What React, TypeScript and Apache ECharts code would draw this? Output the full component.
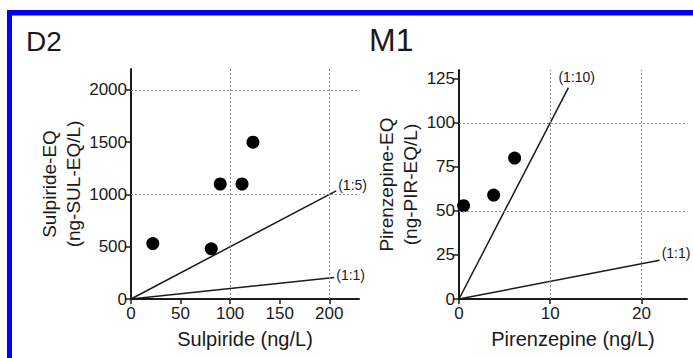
import React, { useEffect, useRef } from "react";
import * as echarts from "echarts";

// ---- data ----
const d2X = [22, 81, 90, 112, 123];
const d2Y = [530, 480, 1100, 1100, 1500];
const m1X = [0.5, 3.8, 6.1];
const m1Y = [53, 59, 80];

const d2XTicks = [0, 50, 100, 150, 200];
const d2YTicks = [0, 500, 1000, 1500, 2000];
const m1XTicks = [0, 10, 20];
const m1YTicks = [0, 25, 50, 75, 100, 125];

const d2GridX = [100, 200];
const d2GridY = [1000, 2000];
const m1GridX = [10, 20];
const m1GridY = [50, 100];

const d2Ratio5 = [[0, 0], [207, 1035]];
const d2Ratio1 = [[0, 0], [205, 205]];
const m1Ratio10 = [[0, 0], [12, 120]];
const m1Ratio1 = [[0, 0], [22, 22]];

const FONT = "'Liberation Sans', Arial, sans-serif";
const INK = "#1a1a1a";

function xAxisDef(grid: number, max: number, ticks: number[], name: string) {
  return {
    type: "value",
    gridIndex: grid,
    min: 0,
    max,
    name,
    nameLocation: "middle",
    nameGap: 30,
    nameTextStyle: { fontSize: 20, color: INK, fontFamily: FONT },
    axisLine: { show: true, onZero: false, lineStyle: { color: INK, width: 2 } },
    axisTick: { show: true, customValues: ticks, length: 5, lineStyle: { color: INK, width: 1.5 } },
    axisLabel: {
      customValues: ticks,
      formatter: (v: number) => String(v),
      fontSize: 17,
      color: INK,
      fontFamily: FONT,
      margin: 6,
    },
    splitLine: { show: false },
  };
}

function yAxisDef(grid: number, max: number, ticks: number[], name: string, gap: number) {
  return {
    type: "value",
    gridIndex: grid,
    min: 0,
    max,
    name,
    nameLocation: "middle",
    nameRotate: 90,
    nameGap: gap,
    nameTextStyle: { fontSize: 19, lineHeight: 24, color: INK, fontFamily: FONT },
    axisLine: { show: true, onZero: false, lineStyle: { color: INK, width: 2 } },
    axisTick: { show: true, customValues: ticks, length: 6, lineStyle: { color: INK, width: 1.5 } },
    axisLabel: {
      customValues: ticks,
      formatter: (v: number) => String(v),
      fontSize: 17,
      color: INK,
      fontFamily: FONT,
      margin: 4,
    },
    splitLine: { show: false },
  };
}

function gridSeries(idx: number, gx: number[], gy: number[]) {
  return {
    type: "line",
    xAxisIndex: idx,
    yAxisIndex: idx,
    data: [],
    silent: true,
    z: 1,
    markLine: {
      silent: true,
      symbol: "none",
      label: { show: false },
      lineStyle: { color: "#888", width: 1, type: [2, 2] },
      data: [...gx.map((v) => ({ xAxis: v })), ...gy.map((v) => ({ yAxis: v }))],
    },
  };
}

function ratioSeries(idx: number, data: number[][], text: string, offset: number[]) {
  return {
    type: "line",
    xAxisIndex: idx,
    yAxisIndex: idx,
    data,
    showSymbol: false,
    symbol: "none",
    silent: true,
    z: 3,
    lineStyle: { color: INK, width: 1.5 },
    endLabel: {
      show: true,
      formatter: text,
      distance: 2,
      offset,
      fontSize: 14,
      color: INK,
      fontFamily: FONT,
    },
  };
}

function scatterSeries(idx: number, xs: number[], ys: number[]) {
  return {
    type: "scatter",
    xAxisIndex: idx,
    yAxisIndex: idx,
    data: xs.map((x, i) => [x, ys[i]]),
    symbol: "circle",
    symbolSize: 13,
    itemStyle: { color: "#000", opacity: 1 },
    z: 4,
  };
}

export default function App() {
  const ref = useRef<HTMLDivElement>(null);
  useEffect(() => {
    if (!ref.current) return;
    const chart = echarts.init(ref.current, null, { renderer: "svg" });
    chart.setOption({
      animation: false,
      backgroundColor: "#fff",
      textStyle: { fontFamily: FONT },
      title: [
        {
          text: "D2",
          left: 26,
          top: 27,
          padding: 0,
          textStyle: { fontSize: 28, fontWeight: "normal", color: INK, fontFamily: FONT },
        },
        {
          text: "M1",
          left: 369,
          top: 24,
          padding: 0,
          textStyle: { fontSize: 32, fontWeight: "normal", color: INK, fontFamily: FONT },
        },
      ],
      graphic: [
        { type: "rect", shape: { x: 7, y: 10, width: 700, height: 5.5 }, style: { fill: "#0000ff" }, silent: true },
        { type: "rect", shape: { x: 7, y: 10, width: 5, height: 360 }, style: { fill: "#0000ff" }, silent: true },
      ],
      grid: [
        { left: 131, top: 69, width: 228, height: 230 },
        { left: 459, top: 70, width: 228, height: 229 },
      ],
      xAxis: [
        xAxisDef(0, 230, d2XTicks, "Sulpiride (ng/L)"),
        xAxisDef(1, 25, m1XTicks, "Pirenzepine (ng/L)"),
      ],
      yAxis: [
        yAxisDef(0, 2200, d2YTicks, "Sulpiride-EQ\n(ng-SUL-EQ/L)", 44),
        yAxisDef(1, 130, m1YTicks, "Pirenzepine-EQ\n(ng-PIR-EQ/L)", 37),
      ],
      series: [
        gridSeries(0, d2GridX, d2GridY),
        gridSeries(1, m1GridX, m1GridY),
        ratioSeries(0, d2Ratio5, "(1:5)", [0, -6]),
        ratioSeries(0, d2Ratio1, "(1:1)", [0, -3]),
        ratioSeries(1, m1Ratio10, "(1:10)", [-12, -11]),
        ratioSeries(1, m1Ratio1, "(1:1)", [0, -7]),
        scatterSeries(0, d2X, d2Y),
        scatterSeries(1, m1X, m1Y),
      ],
    });
    return () => chart.dispose();
  }, []);
  return (
    <div
      ref={ref}
      style={{ position: "fixed", left: 0, top: 0, width: 693, height: 358 }}
    />
  );
}
